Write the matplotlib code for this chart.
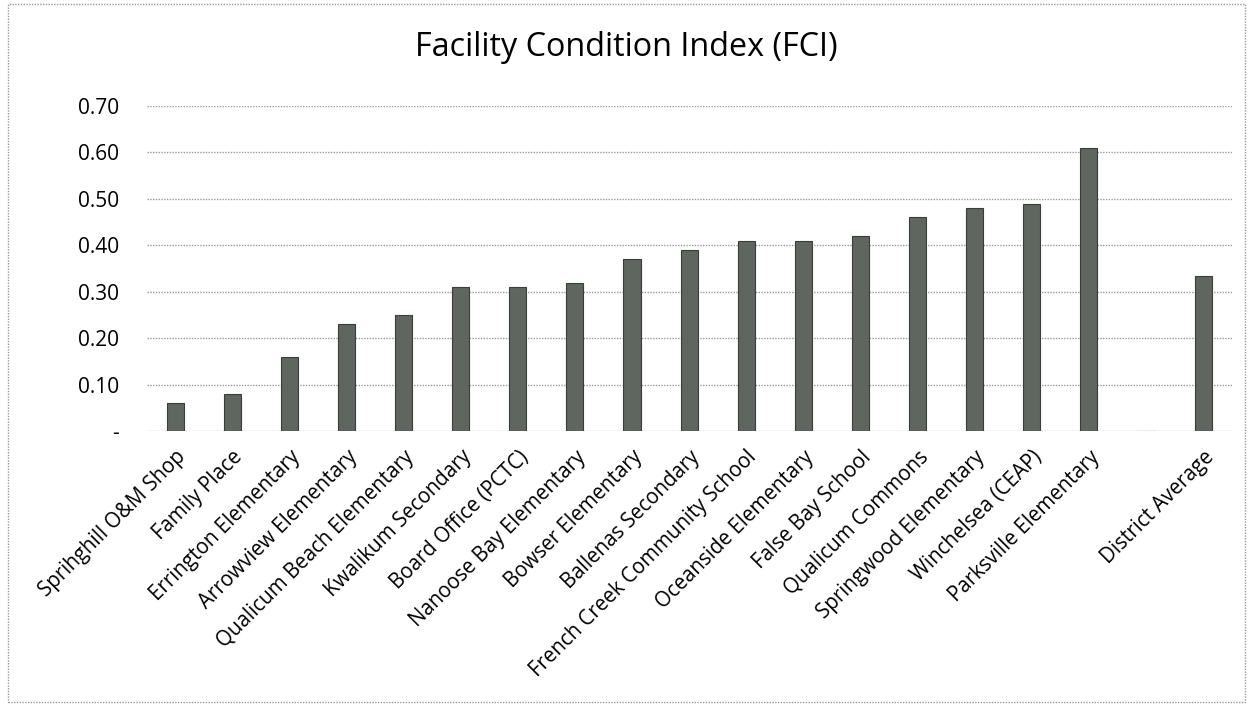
import matplotlib.pyplot as plt
from matplotlib.patches import Rectangle
from matplotlib.ticker import FuncFormatter

facilities = ["Sprihghill O&M Shop", "Family Place", "Errington Elementary",
              "Arrowview Elementary", "Qualicum Beach Elementary", "Kwalikum Secondary",
              "Board Office (PCTC)", "Nanoose Bay Elementary", "Bowser Elementary",
              "Ballenas Secondary", "French Creek Community School", "Oceanside Elementary",
              "False Bay School", "Qualicum Commons", "Springwood Elementary",
              "Winchelsea (CEAP)", "Parksville Elementary", "", "District Average"]
fci = [0.06, 0.08, 0.16, 0.23, 0.25, 0.31, 0.31, 0.32, 0.37, 0.39, 0.41, 0.41,
       0.42, 0.46, 0.48, 0.49, 0.61, 0.0, 0.335]

plt.rcParams['font.family'] = ['Open Sans', 'DejaVu Sans']

fig = plt.figure(figsize=(12.53, 7.06), dpi=100)
ax = fig.add_axes([0.117, 0.389, 0.866, 0.461])

x = list(range(len(facilities)))
ax.bar(x, fci, width=0.3, color='#5f655f', edgecolor='#3a3d3a', linewidth=0.8, zorder=3)

ax.set_xlim(-0.5, len(facilities) - 0.5)
ax.set_ylim(0, 0.70)
ax.set_yticks([0, 0.1, 0.2, 0.3, 0.4, 0.5, 0.6, 0.7])
ax.yaxis.set_major_formatter(FuncFormatter(lambda v, p: '-' if v == 0 else f'{v:.2f}'))
ax.yaxis.grid(True, color='#999999', linestyle=(0, (1, 1)), linewidth=1.0, zorder=0)
ax.set_xticks(x)
ax.set_xticklabels(facilities, rotation=45, ha='right', rotation_mode='anchor', fontsize=14.8)
ax.tick_params(axis='both', length=0)
ax.tick_params(axis='y', labelsize=15, pad=20)
ax.tick_params(axis='x', pad=11)
for s in ax.spines.values():
    s.set_visible(False)

fig.text(0.5, 0.933, 'Facility Condition Index (FCI)', ha='center', va='center', fontsize=23.3)

fig.patches.append(Rectangle((0.006, 0.006), 0.988, 0.988, transform=fig.transFigure,
                             fill=False, edgecolor='#999999', linestyle=(0, (1, 1)), linewidth=1))

fig.savefig('out.png', dpi=100)
